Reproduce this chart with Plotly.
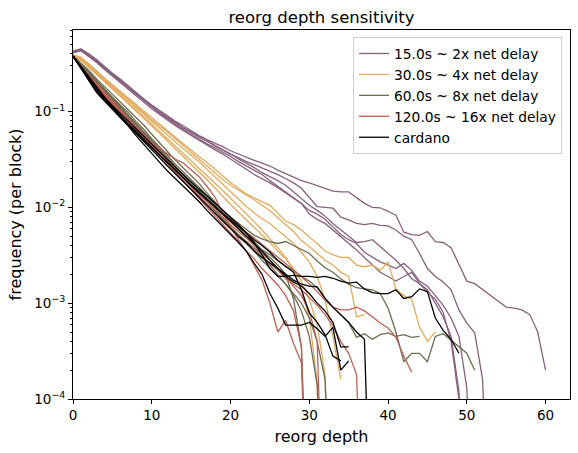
import plotly.graph_objects as go

# reorg depth (x) shared by all runs
depths = list(range(61))

# frequency per block for each run, grouped by slot time
runs_15s = [
    [0.43, 0.45, 0.40, 0.35, 0.295, 0.251, 0.219, 0.186, 0.158, 0.135, 0.117, 0.102, 0.089, 0.079,
     0.071, 0.063, 0.056, 0.051, 0.047, 0.043, 0.039, 0.036, 0.033, 0.031, 0.029, 0.027, 0.0245,
     0.0224, 0.0204, 0.019, 0.018, 0.017, 0.0158, 0.0148, 0.0145, 0.0145, 0.0126, 0.011, 0.010,
     0.0099, 0.0091, 0.0083, 0.0055, 0.0052, 0.0051, 0.0056, 0.0044, 0.0043, 0.0038, 0.0025,
     0.0017, 0.0016, 0.0014, 0.0012, 0.00105, 0.00091, 0.00089, 0.00085, 0.00076, 0.0005, 0.0002],
    [0.42, 0.44, 0.39, 0.34, 0.29, 0.245, 0.21, 0.18, 0.153, 0.13, 0.112, 0.097, 0.085, 0.075, 0.067,
     0.06, 0.054, 0.049, 0.044, 0.040, 0.036, 0.033, 0.030, 0.028, 0.026, 0.024, 0.022, 0.020, 0.018,
     0.0158, 0.0126, 0.0102, 0.0100, 0.0098, 0.0079, 0.0074, 0.0068, 0.0066, 0.0068, 0.0065, 0.0064,
     0.0058, 0.0050, 0.0046, 0.0033, 0.0023, 0.0019, 0.00166, 0.00138, 0.00085, 0.00062, 0.00049,
     0.00016, 1e-6],
    [0.42, 0.45, 0.39, 0.34, 0.29, 0.25, 0.215, 0.182, 0.155, 0.132, 0.114, 0.099, 0.087, 0.077, 0.068,
     0.061, 0.055, 0.049, 0.045, 0.040, 0.036, 0.032, 0.029, 0.026, 0.023, 0.021, 0.019, 0.017, 0.0145,
     0.0126, 0.0105, 0.0093, 0.0081, 0.0068, 0.0058, 0.0050, 0.0043, 0.0044, 0.0046, 0.0039, 0.0033,
     0.0028, 0.0023, 0.0018, 0.0016, 0.00138, 0.001, 0.00072, 0.00045, 0.00012, 1e-6],
    [0.41, 0.44, 0.38, 0.33, 0.28, 0.24, 0.205, 0.175, 0.15, 0.128, 0.11, 0.096, 0.084, 0.073, 0.065,
     0.058, 0.052, 0.046, 0.042, 0.038, 0.034, 0.030, 0.027, 0.024, 0.022, 0.019, 0.0165, 0.0145,
     0.0125, 0.011, 0.0093, 0.0085, 0.0075, 0.0062, 0.0052, 0.0046, 0.0042, 0.0034, 0.0030, 0.0027,
     0.0025, 0.0023, 0.0026, 0.0022, 0.0017, 0.0015, 0.0012, 0.00095, 0.0007, 0.00045, 0.00013, 1e-6],
    [0.41, 0.43, 0.375, 0.325, 0.275, 0.235, 0.20, 0.17, 0.145, 0.124, 0.107, 0.093, 0.081, 0.071,
     0.063, 0.056, 0.050, 0.045, 0.040, 0.036, 0.032, 0.028, 0.025, 0.022, 0.020, 0.018, 0.016, 0.0142,
     0.0125, 0.011, 0.0085, 0.0075, 0.0068, 0.0058, 0.0050, 0.0043, 0.0036, 0.0030, 0.0025, 0.0021,
     0.0019, 0.0017, 0.0019, 0.0021, 0.0016, 0.0013, 0.0011, 0.0008, 0.0004, 0.0001, 1e-6],
]

runs_30s = [
    [0.39, 0.37, 0.316, 0.263, 0.224, 0.19, 0.162, 0.138, 0.117, 0.10, 0.085, 0.074, 0.063, 0.054,
     0.046, 0.040, 0.034, 0.0295, 0.025, 0.0214, 0.0182, 0.0158, 0.0138, 0.0126, 0.0115, 0.0105,
     0.0087, 0.0072, 0.0066, 0.0058, 0.0049, 0.0042, 0.0035, 0.0032, 0.0030, 0.0030, 0.0025, 0.0024,
     0.0025, 0.0022, 0.0027, 0.0014, 0.0012, 0.0011, 0.00056, 0.0004, 0.0005],
    [0.38, 0.36, 0.31, 0.26, 0.22, 0.185, 0.158, 0.135, 0.114, 0.097, 0.082, 0.071, 0.061, 0.052, 0.044,
     0.038, 0.032, 0.027, 0.023, 0.0195, 0.017, 0.015, 0.0135, 0.012, 0.0105, 0.0092, 0.0078, 0.0066,
     0.0056, 0.0045, 0.0039, 0.0033, 0.0028, 0.0025, 0.0021, 0.0019, 0.00072, 0.00076],
    [0.38, 0.35, 0.30, 0.255, 0.215, 0.18, 0.153, 0.13, 0.11, 0.093, 0.079, 0.067, 0.057, 0.048, 0.041,
     0.035, 0.030, 0.025, 0.021, 0.0175, 0.0145, 0.0122, 0.0102, 0.0088, 0.0076, 0.0068, 0.0058,
     0.0049, 0.0042, 0.0034, 0.0027, 0.0019, 0.0011, 0.00045, 0.00016],
    [0.38, 0.35, 0.295, 0.25, 0.21, 0.176, 0.148, 0.125, 0.105, 0.088, 0.074, 0.062, 0.052, 0.044,
     0.037, 0.031, 0.026, 0.0215, 0.018, 0.015, 0.0125, 0.0104, 0.0086, 0.0071, 0.0058, 0.0047, 0.0038,
     0.003, 0.0022, 0.0014, 0.0007, 0.00015, 1e-6],
    [0.37, 0.34, 0.29, 0.245, 0.205, 0.172, 0.144, 0.121, 0.101, 0.085, 0.071, 0.059, 0.049, 0.041,
     0.034, 0.028, 0.0235, 0.0195, 0.016, 0.013, 0.0107, 0.0089, 0.0074, 0.0062, 0.0052, 0.0043,
     0.0035, 0.0029, 0.0023, 0.0017, 0.0011, 0.0006, 0.00018, 1e-6],
]

runs_60s = [
    [0.38, 0.324, 0.27, 0.219, 0.182, 0.151, 0.126, 0.105, 0.087, 0.072, 0.058, 0.047, 0.038, 0.031,
     0.0257, 0.0214, 0.0178, 0.0141, 0.0115, 0.0093, 0.0079, 0.0068, 0.0058, 0.0051, 0.0047, 0.0044,
     0.0042, 0.0044, 0.0040, 0.0036, 0.0033, 0.00275, 0.00234, 0.0021, 0.0018, 0.00158, 0.00145,
     0.00141, 0.00138, 0.00126, 0.00089, 0.0005, 0.000245, 0.0003, 0.0003, 0.000245, 0.00045,
     0.00048, 0.00041, 0.00035, 0.0003, 0.0002],
    [0.37, 0.316, 0.257, 0.209, 0.174, 0.141, 0.117, 0.098, 0.079, 0.065, 0.052, 0.043, 0.035, 0.028,
     0.0234, 0.0195, 0.0162, 0.0132, 0.0107, 0.0087, 0.0071, 0.006, 0.005, 0.0044, 0.0036, 0.0032,
     0.0028, 0.0024, 0.0022, 0.0019, 0.0017, 0.00145, 0.00112, 0.00091, 0.00076, 0.00063, 0.00044,
     0.00048, 0.00042, 0.00047, 0.00049, 0.00045, 0.00047, 0.00044, 0.00045],
    [0.37, 0.31, 0.25, 0.204, 0.166, 0.135, 0.112, 0.091, 0.074, 0.060, 0.049, 0.040, 0.032, 0.026,
     0.0219, 0.0182, 0.0151, 0.0123, 0.010, 0.0079, 0.0063, 0.0052, 0.0044, 0.0038, 0.0032, 0.0025,
     0.002, 0.00158, 0.0012, 0.00083, 0.00045, 0.00014, 1e-6],
    [0.38, 0.316, 0.257, 0.209, 0.17, 0.138, 0.112, 0.091, 0.074, 0.060, 0.050, 0.041, 0.033, 0.027,
     0.0219, 0.0174, 0.0141, 0.0115, 0.0093, 0.0076, 0.006, 0.0049, 0.0042, 0.0035, 0.0028, 0.0023,
     0.0019, 0.00158, 0.00126, 0.001, 0.0007, 0.0004, 0.00016, 1e-6],
    [0.37, 0.30, 0.245, 0.20, 0.162, 0.132, 0.107, 0.087, 0.071, 0.058, 0.047, 0.038, 0.0316, 0.0263,
     0.0219, 0.0182, 0.0151, 0.0126, 0.0105, 0.0087, 0.0072, 0.006, 0.005, 0.0042, 0.0035, 0.003,
     0.0025, 0.002, 0.0011, 0.00035, 1e-6],
]

runs_120s = [
    [0.37, 0.295, 0.234, 0.19, 0.155, 0.126, 0.105, 0.085, 0.069, 0.056, 0.047, 0.038, 0.031, 0.025,
     0.0204, 0.0166, 0.0138, 0.0117, 0.0102, 0.0089, 0.0076, 0.0065, 0.0055, 0.0048, 0.0041, 0.0035,
     0.003, 0.0026, 0.0022, 0.0019, 0.00158, 0.00132, 0.00107, 0.00091, 0.00085, 0.00085, 0.00091,
     0.00083, 0.00072, 0.00062, 0.00055, 0.00044, 0.00028, 0.00019],
    [0.37, 0.288, 0.229, 0.182, 0.148, 0.12, 0.10, 0.083, 0.069, 0.056, 0.047, 0.041, 0.036, 0.032,
     0.029, 0.0245, 0.0209, 0.0166, 0.0129, 0.0087, 0.0063, 0.0046, 0.0035, 0.0025, 0.00174, 0.001,
     0.0005, 0.00066, 0.00038, 0.00024, 1e-6],
    [0.38, 0.295, 0.234, 0.186, 0.151, 0.123, 0.10, 0.081, 0.066, 0.054, 0.044, 0.035, 0.029, 0.024,
     0.02, 0.0162, 0.0132, 0.0107, 0.0087, 0.0071, 0.006, 0.005, 0.0043, 0.0036, 0.003, 0.0026, 0.0022,
     0.0018, 0.00158, 0.00138, 0.00115, 0.00095, 0.00076, 0.00058, 0.0004, 0.0003, 0.00018, 1e-6],
    [0.38, 0.288, 0.224, 0.178, 0.145, 0.117, 0.095, 0.078, 0.063, 0.052, 0.043, 0.035, 0.028, 0.023,
     0.0186, 0.0151, 0.0123, 0.010, 0.0081, 0.0066, 0.0054, 0.0044, 0.0035, 0.0029, 0.0023, 0.0019,
     0.00155, 0.0012, 0.00083, 0.00035, 1e-6],
    [0.37, 0.295, 0.24, 0.195, 0.158, 0.129, 0.105, 0.085, 0.069, 0.056, 0.046, 0.037, 0.03, 0.0245,
     0.02, 0.0166, 0.0138, 0.0115, 0.0095, 0.0079, 0.0066, 0.0056, 0.0048, 0.004, 0.0033, 0.0028,
     0.0023, 0.0019, 0.0015, 0.0012, 0.00083, 0.0004, 1e-6],
]

runs_cardano = [
    [0.38, 0.295, 0.229, 0.178, 0.141, 0.115, 0.095, 0.079, 0.066, 0.055, 0.046, 0.038, 0.0316, 0.0263,
     0.0219, 0.0182, 0.0155, 0.0132, 0.0112, 0.0095, 0.0079, 0.0066, 0.0054, 0.0043, 0.0032, 0.0023,
     0.0019, 0.0019, 0.00195, 0.0019, 0.0019, 0.00186, 0.0019, 0.00182, 0.0017, 0.00162, 0.00166,
     0.00141, 0.00129, 0.00126, 0.00126, 0.00138, 0.00112, 0.00117, 0.00141, 0.00132, 0.0007,
     0.00052, 0.00042, 0.0003],
    [0.38, 0.288, 0.219, 0.166, 0.132, 0.107, 0.089, 0.072, 0.059, 0.049, 0.040, 0.033, 0.027, 0.0224,
     0.0186, 0.0151, 0.0126, 0.0105, 0.0087, 0.0072, 0.006, 0.005, 0.0043, 0.0035, 0.003, 0.0026,
     0.0023, 0.002, 0.00174, 0.00158, 0.00151, 0.00148, 0.00112, 0.00091, 0.00076, 0.00063, 0.0005,
     0.00042, 1e-6],
    [0.38, 0.282, 0.209, 0.158, 0.129, 0.105, 0.087, 0.071, 0.056, 0.045, 0.036, 0.0295, 0.024, 0.02,
     0.0166, 0.0138, 0.0115, 0.0093, 0.0076, 0.0063, 0.0052, 0.0043, 0.0035, 0.0026, 0.002, 0.00126,
     0.00089, 0.00059, 0.00059, 0.00059, 0.00063, 0.00054, 0.00045, 0.00056, 0.0002, 0.00025],
    [0.38, 0.288, 0.224, 0.174, 0.138, 0.112, 0.091, 0.074, 0.062, 0.051, 0.043, 0.035, 0.0295, 0.0245,
     0.0204, 0.017, 0.0145, 0.0123, 0.0102, 0.0085, 0.0071, 0.006, 0.005, 0.0042, 0.0035, 0.0028,
     0.0023, 0.0019, 0.00166, 0.00151, 0.00126, 0.001, 0.00083, 0.00063, 0.00035, 0.00035],
    [0.38, 0.282, 0.214, 0.166, 0.135, 0.11, 0.089, 0.074, 0.062, 0.05, 0.042, 0.035, 0.029, 0.024,
     0.02, 0.0166, 0.0141, 0.012, 0.0102, 0.0087, 0.0074, 0.0063, 0.0054, 0.0046, 0.004, 0.0034,
     0.0028, 0.0024, 0.0021, 0.00138, 0.00079, 0.00063, 0.00047, 0.00028, 0.00025],
]

group_names = ['15.0s ~ 2x net delay', '30.0s ~ 4x net delay', '60.0s ~ 8x net delay',
               '120.0s ~ 16x net delay', 'cardano']
group_runs = [runs_15s, runs_30s, runs_60s, runs_120s, runs_cardano]
group_colors = ['#87627f', '#e3ab5f', '#6d6c4e', '#bf6056', '#000000']

y_ticks = [1e-4, 1e-3, 1e-2, 1e-1]
y_tick_text = ['10<sup>−4</sup>', '10<sup>−3</sup>', '10<sup>−2</sup>', '10<sup>−1</sup>']

fig = go.Figure()

for name, runs, color in zip(group_names, group_runs, group_colors):
    for i, freq in enumerate(runs):
        fig.add_trace(go.Scatter(
            x=depths[:len(freq)],
            y=freq,
            mode='lines',
            line=dict(color=color, width=1.3),
            name=name,
            legendgroup=name,
            showlegend=(i == 0),
        ))

minor_vals = [m * 10 ** e for e in range(-4, 0) for m in range(2, 10)]

fig.update_layout(
    width=578,
    height=453,
    margin=dict(l=73, r=8, t=30, b=54, autoexpand=False),
    paper_bgcolor='white',
    plot_bgcolor='white',
    font=dict(family='DejaVu Sans', size=13.5, color='black'),
    title=dict(text='reorg depth sensitivity', x=0.5, xref='paper', xanchor='center',
               y=1 - 17 / 453, yanchor='middle', font=dict(size=16.5)),
    showlegend=True,
    legend=dict(x=0.984, y=0.981, xanchor='right', yanchor='top',
                bgcolor='rgba(255,255,255,0.8)', bordercolor='#cccccc', borderwidth=1,
                font=dict(size=13.8), tracegroupgap=0, itemwidth=30),
)

fig.update_xaxes(
    range=[0, 63.1],
    tickvals=[0, 10, 20, 30, 40, 50, 60],
    ticks='outside', ticklen=4, tickwidth=1, tickcolor='black',
    showline=True, linecolor='black', linewidth=1, mirror=True,
    showgrid=False, zeroline=False, automargin=False,
    title=dict(text='reorg depth', standoff=8),
)

fig.update_yaxes(
    type='log',
    range=[-4, -0.149],
    tickvals=y_ticks,
    ticktext=y_tick_text,
    ticks='outside', ticklen=4, tickwidth=1, tickcolor='black',
    minor=dict(tickvals=minor_vals, ticks='outside', ticklen=2, tickwidth=0.8,
               tickcolor='black', showgrid=False),
    showline=True, linecolor='black', linewidth=1, mirror=True,
    showgrid=False, zeroline=False, automargin=False,
    title=dict(text='frequency (per block)', standoff=8),
)

# drop the browser's default page margin so the figure sits at the window origin
fig.write_html('out.html', config={'displayModeBar': False},
               post_script="document.body.style.margin = '0';")
